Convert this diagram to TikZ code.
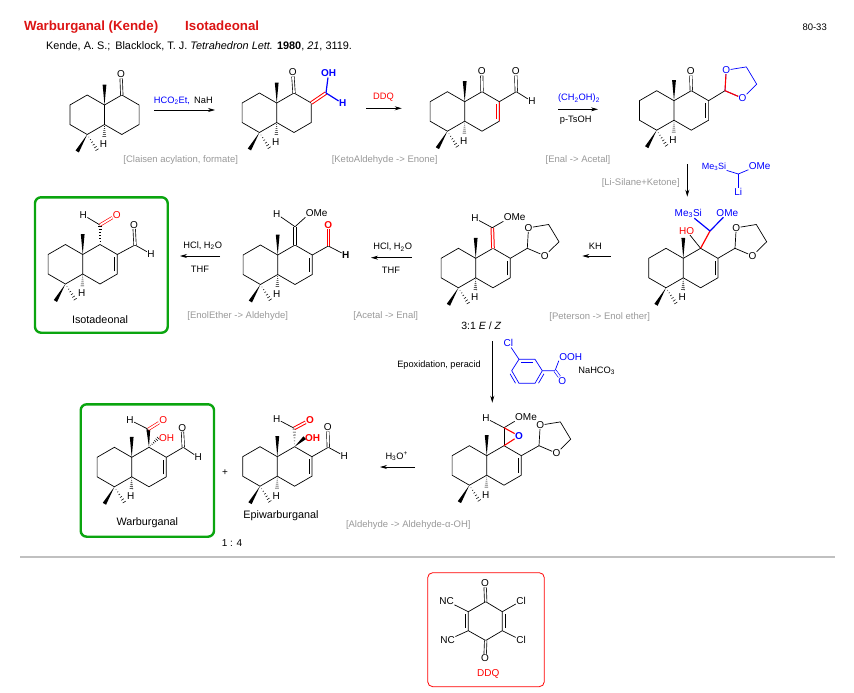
\documentclass[tikz,border=0pt]{standalone}
\usepackage{fontspec}
\setmainfont{Liberation Sans}
\usetikzlibrary{calc,arrows.meta}
\definecolor{titlered}{HTML}{DC1414}
\definecolor{boxgreen}{HTML}{0AA50F}
\definecolor{capgray}{HTML}{999999}
\definecolor{rulegray}{HTML}{C0C0C0}
\newcommand{\fs}[1]{\fontsize{#1}{#1}\selectfont}
\newcommand{\innerbond}[3][bond]{\draw[#1] ($(#2)!.13!(#3)!3pt!90:(#3)$) -- ($(#3)!.13!(#2)!3pt!-90:(#2)$);}
\newcommand{\wedgebond}[2]{\fill ($(#1)$) -- ($(#2)!1.9pt!90:(#1)$) -- ($(#2)!1.9pt!-90:(#1)$) -- cycle;}
\newcommand{\hashbond}[2]{\foreach \k in {1,...,6}{\draw[line width=.55pt] ($(#1)!\k/6.3!(#2)!{\k*0.3pt}!90:(#2)$) -- ($(#1)!\k/6.3!(#2)!{\k*0.3pt}!-90:(#2)$);}}
\tikzset{
  bond/.style={line width=.7pt},
  dbl/.style={double,double distance=1.8pt,line width=.65pt},
  thickdbl/.style={double,double distance=1.6pt,line width=1pt},
  heavy/.style={line width=1.2pt},
  atom/.style={inner sep=.3pt,font=\fs{10}},
  txt/.style={inner sep=0pt,font=\fs{9.3}},
  molname/.style={inner sep=0pt,font=\fs{10.8}},
  gloss/.style={inner sep=0pt,text=capgray,font=\fs{9.5}},
  headline/.style={inner sep=0pt,anchor=base west,text=titlered,font=\fs{13.3}\bfseries},
  rxn/.style={line width=.7pt,-{Stealth[length=7pt,width=4pt]}},
  goalbox/.style={draw=boxgreen,line width=2.4pt,rounded corners=6pt},
  decalin/.pic={
    \coordinate (-f) at (0,0);
    \coordinate (-g) at (0,19.5);
    \coordinate (-l1) at (-17.3,-10);
    \coordinate (-l2) at (-34.6,0);
    \coordinate (-l3) at (-34.6,19.5);
    \coordinate (-l4) at (-17.3,29.5);
    \coordinate (-r1) at (17.3,-10);
    \coordinate (-r2) at (34.6,0);
    \coordinate (-r3) at (34.6,19.5);
    \coordinate (-r4) at (17.3,29.5);
    \coordinate (-me) at (0,-20.5);
    \coordinate (-ma) at (-27.3,46.5);
    \coordinate (-mb) at (-7,45.5);
    \coordinate (-hb) at (-.3,32);
    \node[atom] (-h) at (-1,39) {H};
    \draw[bond] (-f) -- (-l1) -- (-l2) -- (-l3) -- (-l4) -- (-g) -- cycle;
    \draw[bond] (-f) -- (-r1) -- (-r2) -- (-r3) -- (-r4) -- (-g);
    \wedgebond{-f}{-me}
    \wedgebond{-l4}{-ma}
    \hashbond{-l4}{-mb}
    \hashbond{-g}{-hb}
  },
  acetal/.pic={
    \coordinate (-c) at (0,0);
    \node[atom] (-o1) at (1.2,-20.5) {O};
    \node[atom] (-o2) at (17.5,7.5) {O};
    \coordinate (-c1) at (21.3,-23.8);
    \coordinate (-c2) at (31.7,-6.5);
    \draw[bond] (-o1) -- (-c) -- (-o2) -- (-c2) -- (-c1) -- (-o1);
  }
}
\begin{document}
\begin{tikzpicture}[x=1pt,y=-1pt]
\useasboundingbox (0,0) rectangle (854,693);
% header
\node[headline] (title) at (24,31) {Warburganal (Kende)};
\node[headline] (title2) at (185,31) {Isotadeonal};
\node[inner sep=0pt,anchor=east,font=\fs{9.5}] (page) at (827,27.5) {80-33};
\node[inner sep=0pt,anchor=west,font=\fs{10.9}] (cite) at (46,46) {Kende, A. S.;\, Blacklock, T. J. \textit{Tetrahedron Lett.} \textbf{1980}, \textit{21}, 3119.};

% ketone
\pic (m1) at (104.5,105) {decalin};
\node[atom] (m1o) at (121,74.5) {O};
\draw[dbl] (m1-r1) -- (m1o);
\coordinate (a1s) at (154,110);
\coordinate (a1e) at (215,110);
\draw[rxn] (a1s) -- (a1e);
\node[txt] (a1t) at (183.3,100.5) {\textcolor{blue}{HCO\textsubscript{2}Et,}\, NaH};
\node[gloss] (cap1) at (180.7,160) {[Claisen acylation, formate]};

% hydroxymethylene
\pic (m2) at (276.7,103) {decalin};
\node[atom] (m2o) at (292.7,72.5) {O};
\draw[dbl] (m2-r1) -- (m2o);
\coordinate (m2c) at (326,93);
\node[atom,blue] (m2oh) at (328.5,73.5) {\bfseries OH};
\node[atom,blue] (m2h) at (342.7,103.5) {\bfseries H};
\draw[thickdbl,red] (m2-r2) -- (m2c);
\draw[heavy,blue] (m2c) -- (m2oh);
\draw[heavy,blue] (m2c) -- (m2h);
\coordinate (a2s) at (366,108.3);
\coordinate (a2e) at (401.7,108.3);
\draw[rxn] (a2s) -- (a2e);
\node[txt,red] (a2t) at (383.5,97.5) {DDQ};
\node[gloss] (cap2) at (384.7,160) {[KetoAldehyde -> Enone]};

% enone aldehyde
\pic (m3) at (464.7,101.7) {decalin};
\node[atom] (m3o) at (481.7,71.5) {O};
\draw[dbl] (m3-r1) -- (m3o);
\draw[line width=1.3pt,red] (m3-r2) -- (m3-r3);
\innerbond[line width=1.3pt,red]{m3-r3}{m3-r2}
\coordinate (m3c) at (516.3,91.7);
\node[atom] (m3oa) at (515.7,71.5) {O};
\node[atom] (m3h) at (532,101.5) {H};
\draw[bond] (m3-r2) -- (m3c) -- (m3h);
\draw[dbl] (m3c) -- (m3oa);
\coordinate (a3s) at (558,109.3);
\coordinate (a3e) at (598,109.3);
\draw[rxn] (a3s) -- (a3e);
\node[txt,blue] (a3t) at (579,98.5) {(CH\textsubscript{2}OH)\textsubscript{2}};
\node[txt] (a3b) at (575.7,120) {p-TsOH};
\node[gloss] (cap3) at (578,159.7) {[Enal -> Acetal]};

% acetal enone
\pic (m4) at (674,100.7) {decalin};
\node[atom] (m4o) at (690.7,71.5) {O};
\draw[dbl] (m4-r1) -- (m4o);
\innerbond{m4-r3}{m4-r2}
\pic[blue] (m4a) at (725,90.7) {acetal};
\draw[bond] (m4-r2) -- (m4a-c);
\draw[line width=1.1pt,red] (m4a-c) -- (m4a-o1);
\draw[line width=1.1pt,red] (m4a-c) -- (m4a-o2);
\coordinate (a4s) at (687.3,164);
\coordinate (a4e) at (687.3,196.7);
\draw[rxn] (a4s) -- (a4e);
\node[gloss] (cap4) at (640.7,182.7) {[Li-Silane+Ketone]};
\coordinate (lic) at (738.3,174);
\node[atom,blue,font=\fs{9}] (lisi) at (714,166.5) {Me\textsubscript{3}Si};
\node[atom,blue] (liome) at (759.7,165.7) {OMe};
\node[atom,blue] (lili) at (738.3,191.7) {Li};
\draw[bond,blue] (lisi) -- (lic) -- (liome.south west);
\draw[bond,blue] (lic) -- (lili);

% silyl alcohol
\pic (m5) at (683.3,258.3) {decalin};
\innerbond{m5-r3}{m5-r2}
\coordinate (m5c) at (710,231);
\node[atom,blue] (m5si) at (688.3,213.3) {Me\textsubscript{3}Si};
\node[atom,blue] (m5ome) at (727.3,213.3) {OMe};
\node[atom,red] (m5ho) at (686.7,231) {HO};
\draw[bond] (m5-r1) -- (m5ho);
\draw[heavy,red] (m5-r1) -- (m5c);
\draw[heavy,blue] (m5c) -- (m5si);
\draw[heavy,blue] (m5c) -- (m5ome);
\pic (m5a) at (735,248.3) {acetal};
\draw[bond] (m5-r2) -- (m5a-c);
\coordinate (a5s) at (610.7,256);
\coordinate (a5e) at (582.3,256);
\draw[rxn] (a5s) -- (a5e);
\node[txt] (a5t) at (595.3,246.5) {KH};
\node[gloss] (cap5) at (599.7,316.7) {[Peterson -> Enol ether]};

% enol ether acetal
\pic (m8) at (475.7,258.3) {decalin};
\innerbond{m8-r3}{m8-r2}
\coordinate (m8c) at (492.3,227.7);
\node[atom] (m8h) at (475,218.3) {H};
\node[atom] (m8ome) at (514.7,217.3) {OMe};
\draw[thickdbl,red] (m8-r1) -- (m8c);
\draw[bond] (m8h) -- (m8c) -- (m8ome.south west);
\pic (m8a) at (527.3,248.3) {acetal};
\draw[bond] (m8-r2) -- (m8a-c);
\node[txt,font=\fs{10.5}] (m8t) at (481.3,326) {3:1 \textit{E} / \textit{Z}};
\coordinate (a6s) at (411.7,257.7);
\coordinate (a6e) at (371,257.7);
\draw[rxn] (a6s) -- (a6e);
\node[txt] (a6t) at (392.7,247.3) {HCl, H\textsubscript{2}O};
\node[txt] (a6b) at (391,270) {THF};
\node[gloss] (cap6) at (385.7,316) {[Acetal -> Enal]};

% enol ether aldehyde
\pic (m7) at (277.7,255) {decalin};
\innerbond{m7-r3}{m7-r2}
\coordinate (m7c) at (295,226.7);
\node[atom] (m7h) at (276.7,214) {H};
\node[atom] (m7ome) at (316.7,213.3) {OMe};
\draw[dbl] (m7c) -- (m7-r1);
\draw[bond] (m7h) -- (m7c) -- (m7ome.south west);
\coordinate (m7d) at (328.3,246);
\node[atom,red] (m7o) at (328.3,225) {\bfseries O};
\node[atom] (m7ha) at (345.7,255) {\bfseries H};
\draw[bond] (m7-r2) -- (m7d) -- (m7ha);
\draw[thickdbl,red] (m7d) -- (m7o);
\coordinate (a7s) at (220,256);
\coordinate (a7e) at (180,256);
\draw[rxn] (a7s) -- (a7e);
\node[txt] (a7t) at (202.7,245.7) {HCl, H\textsubscript{2}O};
\node[txt] (a7b) at (200,269) {THF};
\node[gloss] (cap7) at (237.7,316) {[EnolEther -> Aldehyde]};

% isotadeonal
\pic (m6) at (82.7,254.5) {decalin};
\innerbond{m6-r3}{m6-r2}
\coordinate (m6c) at (100,225);
\node[atom,red] (m6o) at (116.7,215) {O};
\node[atom] (m6h) at (83.3,215) {H};
\hashbond{m6-r1}{m6c}
\draw[bond] (m6c) -- (m6h);
\draw[dbl,red] (m6c) -- (m6o);
\coordinate (m6d) at (135,245);
\node[atom] (m6oa) at (134,225) {O};
\node[atom] (m6ha) at (151,254) {H};
\draw[bond] (m6-r2) -- (m6d) -- (m6ha);
\draw[dbl] (m6d) -- (m6oa);
\node[molname] (m6t) at (100,319.3) {Isotadeonal};
\node[goalbox,minimum width=132.7pt,minimum height=135.4pt] (box1) at (101.35,265) {};

% epoxide
\coordinate (a8s) at (492.3,341);
\coordinate (a8e) at (492.3,402.7);
\draw[rxn] (a8s) -- (a8e);
\node[txt,font=\fs{9.2}] (a8t) at (439,364.7) {Epoxidation, peracid};
\coordinate (ba) at (519,359.3);
\coordinate (bb) at (535,359.3);
\coordinate (bc) at (542.3,370.7);
\coordinate (bd) at (535,383.3);
\coordinate (be) at (519,383.3);
\coordinate (bf) at (511.7,370.7);
\draw[bond,blue] (ba) -- (bb) -- (bc) -- (bd) -- (be) -- (bf) -- cycle;
\begin{scope}[blue]
\innerbond{bb}{ba}
\innerbond{bc}{bd}
\innerbond{be}{bf}
\end{scope}
\node[atom,blue] (bcl) at (508.3,343.3) {Cl};
\coordinate (bco) at (555,370.7);
\node[atom,blue] (booh) at (570.7,356.7) {OOH};
\node[atom,blue] (bo) at (562.3,380.7) {O};
\draw[bond,blue] (ba) -- (bcl);
\draw[bond,blue] (bc) -- (bco) -- (booh.south west);
\draw[dbl,blue] (bco) -- (bo);
\node[txt] (nahco) at (596.7,371) {NaHCO\textsubscript{3}};
\pic (m9) at (486.7,455.7) {decalin};
\innerbond{m9-r3}{m9-r2}
\coordinate (m9c) at (504,427.7);
\node[atom] (m9h) at (486,418.3) {H};
\node[atom] (m9ome) at (526,417.3) {OMe};
\node[atom,blue] (m9o) at (519,436) {\bfseries O};
\draw[bond] (m9-r1) -- (m9c);
\draw[bond] (m9h) -- (m9c) -- (m9ome.south west);
\draw[line width=1.1pt,red] (m9c) -- (m9o);
\draw[line width=1.1pt,red] (m9-r1) -- (m9o);
\pic (m9a) at (539,445.7) {acetal};
\draw[bond] (m9-r2) -- (m9a-c);
\coordinate (a9s) at (415,467);
\coordinate (a9e) at (380,467);
\draw[rxn] (a9s) -- (a9e);
\node[txt] (a9t) at (396.7,456.5) {H\textsubscript{3}O\textsuperscript{+}};
\node[gloss] (cap9) at (408.3,524.7) {[Aldehyde -> Aldehyde-α-OH]};

% epiwarburganal
\pic (m11) at (277.3,456.7) {decalin};
\innerbond{m11-r3}{m11-r2}
\coordinate (m11c) at (294.3,428.3);
\node[atom,red] (m11o) at (310,420) {\bfseries O};
\node[atom] (m11h) at (276.7,419) {H};
\node[atom,red] (m11oh) at (312.7,437.7) {\bfseries OH};
\hashbond{m11-r1}{m11c}
\wedgebond{m11-r1}{m11oh.west}
\draw[bond] (m11c) -- (m11h);
\draw[thickdbl,red] (m11c) -- (m11o);
\coordinate (m11d) at (328.3,447.3);
\node[atom] (m11oa) at (327.7,427.3) {O};
\node[atom] (m11ha) at (344.3,456) {H};
\draw[bond] (m11-r2) -- (m11d) -- (m11ha);
\draw[dbl] (m11d) -- (m11oa);
\node[molname] (m11t) at (281,516) {Epiwarburganal};
\node[atom] (plus) at (225,472.3) {+};
\node[txt,font=\fs{10}] (ratio) at (232,543.3) {1 : 4};

% warburganal
\pic (m10) at (131.7,457.3) {decalin};
\innerbond{m10-r3}{m10-r2}
\coordinate (m10c) at (148.3,429.3);
\node[atom,red] (m10o) at (163.3,420) {O};
\node[atom] (m10h) at (130,420) {H};
\node[atom,red] (m10oh) at (166.7,437.7) {OH};
\wedgebond{m10-r1}{m10c}
\hashbond{m10-r1}{m10oh.west}
\draw[bond] (m10c) -- (m10h);
\draw[dbl,red] (m10c) -- (m10o);
\coordinate (m10d) at (183.3,447.3);
\node[atom] (m10oa) at (182.3,427.7) {O};
\node[atom] (m10ha) at (198.3,457.3) {H};
\draw[bond] (m10-r2) -- (m10d) -- (m10ha);
\draw[dbl] (m10d) -- (m10oa);
\node[molname] (m10t) at (147.3,523) {Warburganal};
\node[goalbox,minimum width=133.3pt,minimum height=132.4pt] (box2) at (147.35,470.5) {};

% separator
\coordinate (sepl) at (20,557);
\coordinate (sepr) at (835,557);
\draw[rulegray,line width=2.6pt] (sepl) -- (sepr);

% DDQ
\node[draw=red,line width=.8pt,rounded corners=5pt,minimum width=116.6pt,minimum height=114pt] (ddqbox) at (486,629.7) {};
\coordinate (qa) at (485.7,601.7);
\coordinate (qb) at (502.3,611.7);
\coordinate (qc) at (502.3,630.7);
\coordinate (qd) at (485.7,640.5);
\coordinate (qe) at (468.3,630.7);
\coordinate (qf) at (468.3,611.7);
\draw[bond] (qa) -- (qb) -- (qc) -- (qd) -- (qe) -- (qf) -- cycle;
\innerbond{qb}{qc}
\innerbond{qe}{qf}
\node[atom] (qo1) at (485,583.3) {O};
\node[atom] (qo2) at (485,658.3) {O};
\node[atom] (qcl1) at (521,601) {Cl};
\node[atom] (qcl2) at (521,640) {Cl};
\node[atom] (qcn1) at (446.7,601) {NC};
\node[atom] (qcn2) at (447.7,640) {NC};
\draw[dbl] (qa) -- (qo1);
\draw[dbl] (qd) -- (qo2);
\draw[bond] (qb) -- (qcl1);
\draw[bond] (qc) -- (qcl2);
\draw[bond] (qf) -- (qcn1);
\draw[bond] (qe) -- (qcn2);
\node[txt,red,font=\fs{10}] (ddq) at (488.3,674) {DDQ};
\end{tikzpicture}
\end{document}
